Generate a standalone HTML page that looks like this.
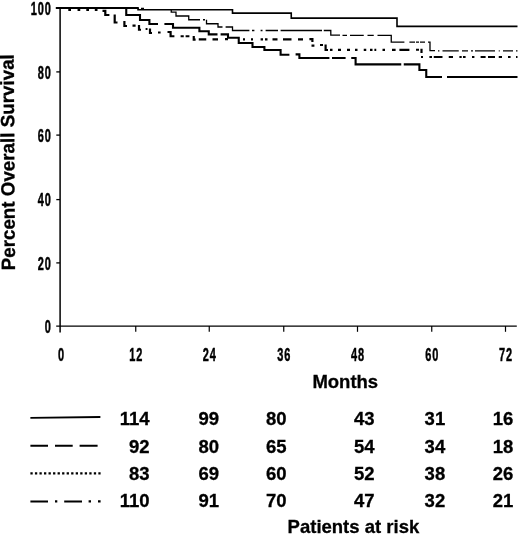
<!DOCTYPE html>
<html lang="en">
<head>
<meta charset="utf-8">
<title>Overall Survival</title>
<style>
html,body{margin:0;padding:0;background:#fff;}
body{width:520px;height:535px;overflow:hidden;}
svg{display:block;}
svg text{font-family:"Liberation Sans",Arial,Helvetica,sans-serif;font-weight:bold;fill:#000;}
</style>
</head>
<body>
<svg width="520" height="535" viewBox="0 0 520 535">
<rect x="0" y="0" width="520" height="535" fill="#fff"/>
<g fill="none" stroke="#000" stroke-linecap="butt" stroke-linejoin="miter">
<!-- axes -->
<path d="M60.1,7.5 V332.4" stroke-width="1.5"/>
<path d="M55.8,8 H138.8" stroke-width="2.2"/>
<path d="M56.2,326.1 H516.8" stroke-width="1.3"/>
<path d="M135.75,326.1 V331.8" stroke-width="1.2"/>
<path d="M209.25,326.1 V331.8" stroke-width="1.2"/>
<path d="M283.75,326.1 V331.8" stroke-width="1.2"/>
<path d="M357.5,326.1 V331.8" stroke-width="1.2"/>
<path d="M431.75,326.1 V331.8" stroke-width="1.2"/>
<path d="M505.5,326.1 V331.8" stroke-width="1.2"/>
<path d="M56.3,71.9 H60" stroke-width="1.3"/>
<path d="M56.3,135.1 H60" stroke-width="1.3"/>
<path d="M56.3,199.6 H60" stroke-width="1.3"/>
<path d="M56.3,262.9 H60" stroke-width="1.3"/>
<!-- survival curves -->
<path d="M141,8.4 L144,8.4 M171.25,9.75 L171.25,12.2 L176,12.2 L176,16 L188.75,16 L188.75,19.75 L200,19.75 M203,19.75 L205,19.75 M206.5,19.75 L206.5,23.75 L218,23.75 L218,27 L222.5,27 M225.6,27 L232.5,27 L232.5,30.5 L249.4,30.5 M252,30.5 L254.4,30.5 M260.6,30.5 L262.5,30.5 M265.6,30.5 L278,30.5 M280.6,30.5 L322,30.5 M323.75,30.5 L330.8,30.5 L330.8,35.2 L340,35.2 M342.5,35.3 L347,35.3 M350,35.3 L363.75,35.3 M367.5,35.3 L373.75,35.3 M377.5,35.3 L391.25,35.3 L391.25,42.2 L404.4,42.2 M409.4,42.2 L415,42.2 M416,42.2 L419,42.2 M420,42.2 L425,42.2 M428,42.2 L430,42.2 L430,50.6 L435,50.6 M438,50.8 L439.4,50.8 M442.5,50.8 L458.75,50.8 M462,50.8 L468,50.8 M471,50.8 L473,50.8 M475,50.8 L495,50.8 M498.75,50.8 L499.75,50.8 M503,50.8 L513,50.8 M516,50.8 L517.5,50.8" stroke-width="1.3"/>
<path d="M68.3,10 L71,10 M77.55,10 L80.25,10 M86.3,10 L89,10 M94.8,10 L97.5,10 M102.5,10.8 L105.3,10.8 L105.3,15 L109.4,15 M114.7,14.4 L114.7,22.5 L117.5,22.5 M124.4,21 L124.4,26 L127,26 M132.5,25.6 L135.6,25.6 M139,25 L139,29.75 L141,29.75 M145.6,29 L147.5,29 M150,28.5 L150,33 L152,33 M158,32.5 L160.6,32.5 M167.5,32 L170.6,32 L170.6,36.25 L174.4,36.25 M180.6,36.25 L183.75,36.25 M185.6,36.25 L189.4,36.25 M193.75,36 L193.75,39.6 L195.6,39.6 M198.75,39.4 L206.25,39.4 M212.5,39.4 L218,39.4 M225,39.2 L228,39.2 M243,39.4 L245,39.4 M251,39.4 L253,39.4 M260.6,39.4 L263,39.4 M265,39.4 L267.5,39.4 M272.5,39.4 L277.5,39.4 M283,39.4 L291.5,39.4 M298,39.4 L303,39.4 M309.4,39.2 L312.4,39.2 L312.4,42 M311.5,45.6 L314.4,45.6 M320,45 L323,45 M325.6,44.4 L325.6,50 L328,50 M330,49.9 L332.5,49.9 M338,49.9 L341,49.9 M347,49.9 L350,49.9 M355,49.9 L357.5,49.9 M363.75,49.9 L366.25,49.9 M370,49.9 L372.5,49.9 M374.4,49.9 L376.25,49.9 M382.5,49.9 L385,49.9 M392,49.9 L395.6,49.9 M399.4,49.9 L409.4,49.9 M416,49.75 L419,49.75 M421.5,48.75 L421.5,53 M421,57 L423,57 M429.4,57 L432,57 M433.75,57 L442.5,57 M448.75,57 L453,57 M459.4,57 L461.7,57 M463,57 L465.6,57 M472,57 L474.4,57 M480.6,57 L485.6,57 M488,57 L495,57 M498.75,57 L502,57 M508,57 L510.6,57 M516,57 L517.5,57" stroke-width="2.2"/>
<path d="M126.25,8 L126.25,15 L140,15 L140,20 L149.4,20 L149.4,24 L158,24 M164.4,24 L173,24 L173,27.75 L199.4,27.75 L199.4,31.25 L208.75,31.25 L208.75,34.4 L217.5,34.4 M220.6,34.4 L228,34.4 L228,37.8 L238.75,37.8 L238.75,43 L252.5,43 L252.5,47 L264.4,47 L264.4,50 L280.6,50 L280.6,54.75 L289.4,54.75 M295.6,54.4 L299.4,54.4 L299.4,58 L329.4,58 M332,58 L345.6,58 M351.25,58 L355.6,58 L355.6,64.4 L401.25,64.4 M403.75,64.4 L419.4,64.4 L419.4,70 L426.25,70 L426.25,77 L442,77 M447,77 L517.5,77" stroke-width="2.1"/>
<path d="M138,8 L138,9.75 L232.5,9.75 L232.5,13.1 L291.25,13.1 L291.25,18.1 L397,18.1 L397,26.4 L517.5,26.4" stroke-width="1.6"/>
<!-- legend -->
<path d="M30.4,417.8 L100.4,417" stroke-width="1.8"/>
<path d="M30.4,445.8 H48 M55,445.8 H72.7 M79.6,445.8 H97.6" stroke-width="2"/>
<path d="M30.4,473.4 H100.6" stroke-width="2.2" stroke-dasharray="2.3 2.23"/>
<path d="M30.4,501.4 H48 M64.2,501.4 H82" stroke-width="2"/>
<path d="M55,501.4 H57.3 M88.6,501.4 H91 M98,501.4 H100.6" stroke-width="2.2"/>
</g>
<g font-size="18.5" stroke="#000" stroke-width="0.3">
<!-- axis titles -->
<text transform="translate(14.95,270.3) rotate(-90.32)" font-size="19.2" textLength="216.1" lengthAdjust="spacingAndGlyphs">Percent Overall Survival</text>
<text x="312.4" y="388.3">Months</text>
<text x="287.6" y="532.9">Patients at risk</text>
<!-- number at risk table -->
<text x="149.5" y="425" text-anchor="end">114</text>
<text x="219" y="425" text-anchor="end">99</text>
<text x="286.5" y="425" text-anchor="end">80</text>
<text x="374.5" y="425" text-anchor="end">43</text>
<text x="445.2" y="425" text-anchor="end">31</text>
<text x="513.3" y="425" text-anchor="end">16</text>
<text x="149.5" y="452.6" text-anchor="end">92</text>
<text x="219" y="452.6" text-anchor="end">80</text>
<text x="286.5" y="452.6" text-anchor="end">65</text>
<text x="374.5" y="452.6" text-anchor="end">54</text>
<text x="445.2" y="452.6" text-anchor="end">34</text>
<text x="513.3" y="452.6" text-anchor="end">18</text>
<text x="149.5" y="479.8" text-anchor="end">83</text>
<text x="219" y="479.8" text-anchor="end">69</text>
<text x="286.5" y="479.8" text-anchor="end">60</text>
<text x="374.5" y="479.8" text-anchor="end">52</text>
<text x="445.2" y="479.8" text-anchor="end">38</text>
<text x="513.3" y="479.8" text-anchor="end">26</text>
<text x="149.5" y="506.8" text-anchor="end">110</text>
<text x="219" y="506.8" text-anchor="end">91</text>
<text x="286.5" y="506.8" text-anchor="end">70</text>
<text x="374.5" y="506.8" text-anchor="end">47</text>
<text x="445.2" y="506.8" text-anchor="end">32</text>
<text x="513.3" y="506.8" text-anchor="end">21</text>
</g>
<g>
<!-- tick labels -->
<text transform="translate(51.6,14.6) scale(0.6,1)" text-anchor="end" font-size="18.3" letter-spacing="1.4" stroke="#000" stroke-width="0.4" vector-effect="non-scaling-stroke">100</text>
<text transform="translate(51.6,78.5) scale(0.6,1)" text-anchor="end" font-size="18.3" letter-spacing="1.4" stroke="#000" stroke-width="0.4" vector-effect="non-scaling-stroke">80</text>
<text transform="translate(51.6,141.7) scale(0.6,1)" text-anchor="end" font-size="18.3" letter-spacing="1.4" stroke="#000" stroke-width="0.4" vector-effect="non-scaling-stroke">60</text>
<text transform="translate(51.6,206.2) scale(0.6,1)" text-anchor="end" font-size="18.3" letter-spacing="1.4" stroke="#000" stroke-width="0.4" vector-effect="non-scaling-stroke">40</text>
<text transform="translate(51.6,269.5) scale(0.6,1)" text-anchor="end" font-size="18.3" letter-spacing="1.4" stroke="#000" stroke-width="0.4" vector-effect="non-scaling-stroke">20</text>
<text transform="translate(51.6,332.7) scale(0.6,1)" text-anchor="end" font-size="18.3" letter-spacing="1.4" stroke="#000" stroke-width="0.4" vector-effect="non-scaling-stroke">0</text>
<text transform="translate(61.5,360.8) scale(0.6,1)" text-anchor="middle" font-size="18.3" letter-spacing="1.4" stroke="#000" stroke-width="0.4" vector-effect="non-scaling-stroke">0</text>
<text transform="translate(136.25,360.8) scale(0.6,1)" text-anchor="middle" font-size="18.3" letter-spacing="1.4" stroke="#000" stroke-width="0.4" vector-effect="non-scaling-stroke">12</text>
<text transform="translate(209.75,360.8) scale(0.6,1)" text-anchor="middle" font-size="18.3" letter-spacing="1.4" stroke="#000" stroke-width="0.4" vector-effect="non-scaling-stroke">24</text>
<text transform="translate(284.25,360.8) scale(0.6,1)" text-anchor="middle" font-size="18.3" letter-spacing="1.4" stroke="#000" stroke-width="0.4" vector-effect="non-scaling-stroke">36</text>
<text transform="translate(358,360.8) scale(0.6,1)" text-anchor="middle" font-size="18.3" letter-spacing="1.4" stroke="#000" stroke-width="0.4" vector-effect="non-scaling-stroke">48</text>
<text transform="translate(432.25,360.8) scale(0.6,1)" text-anchor="middle" font-size="18.3" letter-spacing="1.4" stroke="#000" stroke-width="0.4" vector-effect="non-scaling-stroke">60</text>
<text transform="translate(506,360.8) scale(0.6,1)" text-anchor="middle" font-size="18.3" letter-spacing="1.4" stroke="#000" stroke-width="0.4" vector-effect="non-scaling-stroke">72</text>
</g>
</svg>
</body>
</html>
